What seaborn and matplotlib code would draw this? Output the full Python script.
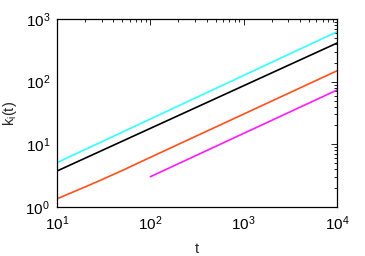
import matplotlib
matplotlib.use("Agg")
import matplotlib.pyplot as plt
import seaborn as sns
import numpy as np
import pandas as pd
from matplotlib.ticker import LogLocator, NullFormatter

sns.set_theme(style="white")
plt.rcParams['font.family'] = ['Liberation Sans', 'DejaVu Sans']
plt.rcParams['mathtext.fontset'] = 'custom'
plt.rcParams['mathtext.rm'] = 'Liberation Sans'
plt.rcParams['mathtext.it'] = 'Liberation Sans'

# data
t_cyan = [10, 10000]
k_cyan = [5.1, 625]
t_black = [10, 10000]
k_black = [3.75, 413]
t_orange = [10, 20, 30, 50, 100, 1000, 10000]
k_orange = [1.35, 2.09, 2.72, 3.82, 6.2, 30.4, 149]
t_magenta = [100, 10000]
k_magenta = [3.04, 73.5]

series = [
    (t_cyan, k_cyan, "#33ffff"),
    (t_black, k_black, "#000000"),
    (t_orange, k_orange, "#ff4f1a"),
    (t_magenta, k_magenta, "#ff1aff"),
]

fig = plt.figure(figsize=(3.65, 2.56), dpi=100)
ax = fig.add_axes([57/365, 1-207/256, 280/365, 188/256])

for t, k, c in series:
    df = pd.DataFrame({"t": t, "k": k})
    sns.lineplot(data=df, x="t", y="k", color=c, lw=1.2, ax=ax)

ax.set_xscale("log")
ax.set_yscale("log")
ax.set_xlim(10, 1e4)
ax.set_ylim(1, 1e3)
ax.set_xticks([1e1, 1e2, 1e3, 1e4])
ax.set_xticklabels([r"$10^{1}$", r"$10^{2}$", r"$10^{3}$", r"$10^{4}$"])
ax.set_yticks([1e0, 1e1, 1e2, 1e3])
ax.set_yticklabels([r"$10^{0}$", r"$10^{1}$", r"$10^{2}$", r"$10^{3}$"])
ax.xaxis.set_minor_locator(LogLocator(base=10, subs=np.arange(2, 10), numticks=20))
ax.yaxis.set_minor_locator(LogLocator(base=10, subs=np.arange(2, 10), numticks=20))
ax.xaxis.set_minor_formatter(NullFormatter())
ax.yaxis.set_minor_formatter(NullFormatter())
ax.tick_params(which="both", direction="in", top=True, right=True, colors="black",
               labelsize=11, width=0.6)
ax.tick_params(which="major", length=4.5, pad=5)
ax.tick_params(which="minor", length=2.5)
for s in ax.spines.values():
    s.set_color("black")
    s.set_linewidth(0.9)
ax.set_xlabel("t", fontsize=10.5, labelpad=7)
ax.set_ylabel(r"k$_{\mathrm{i}}$(t)", fontsize=10.5, labelpad=5)
ax.grid(False)

fig.savefig("out.png", dpi=100)
